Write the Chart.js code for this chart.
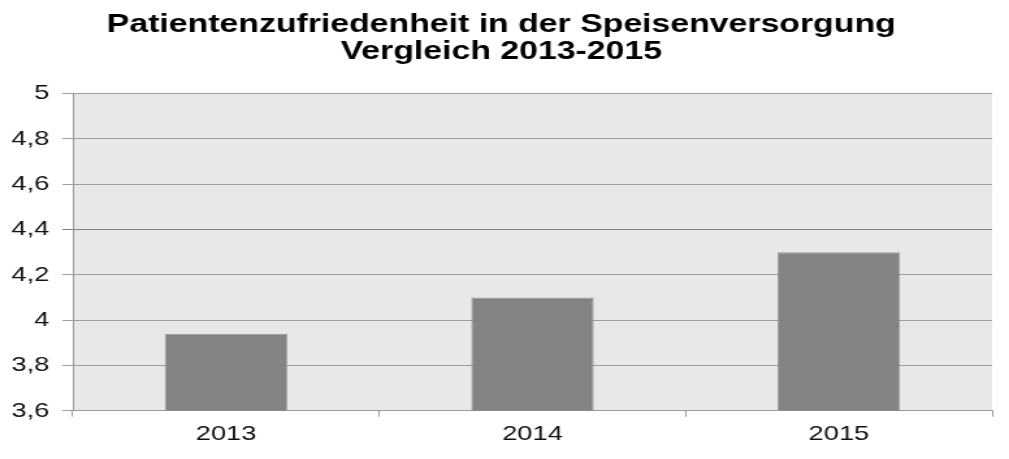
<!DOCTYPE html>
<html>
<head>
<meta charset="utf-8">
<script src="https://cdn.jsdelivr.net/npm/chart.js@4"></script>
<style>
  html, body { margin: 0; padding: 0; background: #ffffff; overflow: hidden; }
  #wrap { width: 1009px; height: 459px; overflow: hidden; }
  #c { display: block; width: 776px; height: 459px; transform-origin: 0 0; transform: scaleX(1.30026); }
</style>
</head>
<body>
<div id="wrap"><canvas id="c" width="776" height="459"></canvas></div>
<script>
const titleLines = ['Patientenzufriedenheit in der Speisenversorgung', 'Vergleich 2013-2015'];
const categories = ['2013', '2014', '2015'];
const satisfaction = [3.94, 4.10, 4.30];
const yTickLabels = ['3,6', '3,8', '4', '4,2', '4,4', '4,6', '4,8', '5'];
const yMin = 3.6;
const yMax = 5;
const yStep = 0.2;

const plotBackground = {
  id: 'plotBackground',
  beforeDraw(chart) {
    const a = chart.chartArea;
    const ctx = chart.ctx;
    ctx.save();
    ctx.fillStyle = '#e8e8e8';
    ctx.fillRect(a.left, a.top, a.right - a.left, a.bottom - a.top);
    ctx.restore();
  }
};

const FONT = '"Liberation Sans", Arial, Helvetica, sans-serif';

new Chart(document.getElementById('c'), {
  type: 'bar',
  data: {
    labels: categories,
    datasets: [{
      data: satisfaction,
      backgroundColor: '#838383',
      borderColor: '#9c9c9c',
      borderWidth: 1,
      barPercentage: 0.4,
      categoryPercentage: 1.0
    }]
  },
  options: {
    responsive: false,
    animation: false,
    devicePixelRatio: 1,
    layout: { padding: { left: 8, right: 13, top: 0, bottom: 7 } },
    plugins: {
      legend: { display: false },
      tooltip: { enabled: false },
      title: {
        display: true,
        text: titleLines,
        color: '#000000',
        font: { family: FONT, size: 26, weight: 'bold', lineHeight: 1.05 },
        padding: { top: 11, bottom: 28 }
      }
    },
    scales: {
      x: {
        offset: true,
        grid: {
          offset: true,
          drawOnChartArea: false,
          drawTicks: true,
          tickLength: 6,
          color: '#9a9a9a'
        },
        border: { display: true, color: '#9a9a9a', width: 1 },
        ticks: {
          color: '#111111',
          padding: 5,
          font: { family: FONT, size: 21 }
        }
      },
      y: {
        min: yMin,
        max: yMax,
        afterFit(scale) { scale.width = 48; },
        grid: {
          drawTicks: true,
          tickLength: 8,
          color(ctx) {
            return (ctx.tick && Math.abs(ctx.tick.value - 4.4) < 1e-6) ? '#7e7e7e' : '#9e9e9e';
          },
          lineWidth: 1
        },
        border: { display: true, color: '#9a9a9a', width: 1 },
        ticks: {
          stepSize: yStep,
          color: '#111111',
          padding: 10,
          font: { family: FONT, size: 21 },
          callback(value, index) { return yTickLabels[index]; }
        }
      }
    }
  },
  plugins: [plotBackground]
});
</script>
</body>
</html>
